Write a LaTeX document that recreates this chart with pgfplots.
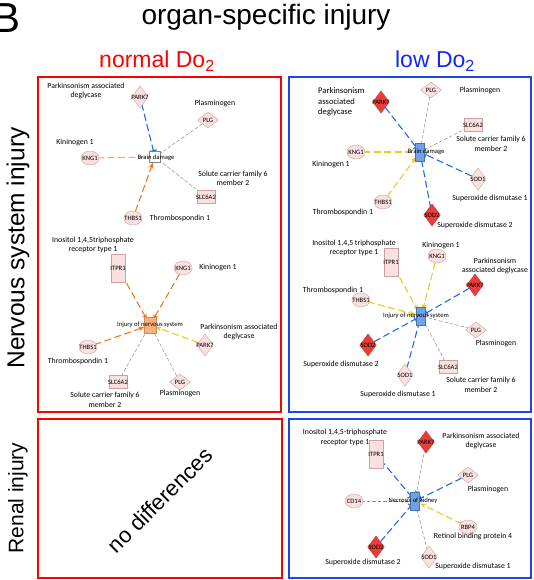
\documentclass[border=0pt]{standalone}
\usepackage{fontspec}
\setmainfont{Liberation Sans}
\newfontfamily\netfont{Carlito}
\usepackage{pgfplots}
\pgfplotsset{compat=1.18}
\usetikzlibrary{arrows.meta}
\definecolor{lpink}{RGB}{250,224,224}
\definecolor{pinkline}{RGB}{205,160,160}
\definecolor{nred}{RGB}{232,62,58}
\definecolor{nblue}{RGB}{112,162,230}
\definecolor{norange}{RGB}{248,176,120}
\definecolor{eblue}{RGB}{30,110,230}
\definecolor{eorange}{RGB}{240,120,30}
\definecolor{elorange}{RGB}{246,170,110}
\definecolor{eyellow}{RGB}{240,200,30}
\definecolor{egray}{RGB}{140,140,140}
\definecolor{pblue}{RGB}{30,70,230}
\definecolor{tblue}{RGB}{20,40,245}
\tikzset{
 E/.style={line width=1.1pt, dash pattern=on 7pt off 3.5pt, shorten <=7pt, shorten >=6pt},
 Eb/.style={E, eblue, -{Bar[width=7pt,line width=1.1pt]}},
 Eo/.style={E, eorange, -{Stealth[length=6pt,width=5pt]}},
 Elo/.style={E, elorange},
 Ey/.style={E, eyellow, -{Stealth[length=6pt,width=5pt]}},
 Eyn/.style={E, eyellow},
 Eg/.style={line width=0.5pt, egray, dash pattern=on 3.5pt off 2pt, shorten <=7pt, shorten >=6pt},
 Egarr/.style={Eg, -{Stealth[length=5pt,width=4pt]}},
}
\pgfplotsset{
 base/.style={at={(0,0)}, anchor=south west, scale only axis, width=533pt, height=580pt,
   xmin=0, xmax=533, ymin=0, ymax=580, y dir=reverse, hide axis, clip=false},
 circ/.style={only marks, mark=*, mark size=7pt, mark options={xscale=1.3, fill=lpink, draw=pinkline, line width=0.4pt}},
 vdia/.style={only marks, mark=diamond*, mark size=11pt, mark options={fill=lpink, draw=pinkline, line width=0.4pt}},
 vdiared/.style={only marks, mark=diamond*, mark size=11pt, mark options={fill=nred, draw=nred!85!black, line width=0.4pt}},
 hdia/.style={only marks, mark=diamond*, mark size=10.5pt, mark options={rotate=90, fill=lpink, draw=pinkline, line width=0.4pt}},
 slc/.style={only marks, mark=square*, mark size=6.5pt, mark options={xscale=1.35, fill=lpink, draw=pinkline, line width=0.4pt}},
 itpr/.style={only marks, mark=square*, mark size=7pt, mark options={yscale=2, fill=lpink, draw=pinkline, line width=0.4pt}},
 hubw/.style={only marks, mark=square*, mark size=5.5pt, mark options={fill=white, draw=gray, line width=0.4pt}},
 hubo/.style={only marks, mark=square*, mark size=6pt, mark options={yscale=1.3, fill=norange, draw=norange!80!black, line width=0.4pt}},
 hubb/.style={only marks, mark=square*, mark size=4.5pt, mark options={yscale=2, fill=nblue, draw=nblue!70!black, line width=0.4pt}},
}
\newcommand{\lab}{\netfont\fontsize{7.8}{9.5}\selectfont}
\newcommand{\inl}{\netfont\fontsize{6.6}{7}\selectfont}
\newcommand{\lb}[3]{\node[font=\lab, align=center, inner sep=0pt] at (axis cs:#1,#2) {#3};}
\newcommand{\il}[3]{\node[font=\inl, inner sep=0pt] at (axis cs:#1,#2) {#3};}
\newcommand{\ed}[5]{\addplot[#1] coordinates {(#2,#3) (#4,#5)};}
\begin{document}
\begin{tikzpicture}
\begin{axis}[base]
\coordinate (LL) at (axis cs:0,580);
\coordinate (UR) at (axis cs:533,0);
% panel borders
\addplot[red, line width=2.6pt] coordinates {(38,77)(281,77)(281,412)(38,412)(38,77)(281,77)};
\addplot[pblue, line width=2.6pt] coordinates {(289,77)(531,77)(531,412)(289,412)(289,77)(531,77)};
\addplot[red, line width=2.6pt] coordinates {(38,419)(282,419)(282,578)(38,578)(38,419)(282,419)};
\addplot[pblue, line width=2.6pt] coordinates {(289,419)(531,419)(531,578)(289,578)(289,419)(531,419)};
% ---- edges TL upper
\ed{Eb}{140}{97}{155}{157}
\ed{Eg}{208}{120}{155}{157}
\ed{Elo}{90}{158}{155}{157}
\ed{Eg}{206}{197}{155}{157}
\ed{Eo}{133}{218}{155}{157}
% TL lower
\ed{Eo}{118}{268}{150}{325}
\ed{Eo}{183}{268}{150}{325}
\ed{Eo}{88}{347}{150}{325}
\ed{Ey}{205}{345}{150}{325}
\ed{Eg}{118}{382}{150}{325}
\ed{Eg}{180}{382}{150}{325}
% TR upper
\ed{Eb}{381}{102}{420}{152}
\ed{Eg}{431}{90}{420}{152}
\ed{Eg}{473}{125}{420}{152}
\ed{Eyn}{356}{152}{420}{152}
\ed{Ey}{383}{202}{420}{152}
\ed{Eb}{478}{179}{420}{152}
\ed{Eb}{432}{215}{420}{152}
% TR lower
\ed{Ey}{391}{262}{421}{316}
\ed{Ey}{437}{256}{421}{316}
\ed{Ey}{361}{300}{421}{316}
\ed{Eb}{475}{285}{421}{316}
\ed{Eg}{476}{330}{421}{316}
\ed{Eb}{368}{345}{421}{316}
\ed{Eb}{405}{375}{421}{316}
\ed{Eg}{448}{367}{421}{316}
% BR
\ed{Eb}{376}{454}{415}{501}
\ed{Egarr}{426}{442}{415}{501}
\ed{Eb}{468}{475}{415}{501}
\ed{Eg}{354}{501}{415}{501}
\ed{Ey}{468}{527}{415}{501}
\ed{Eb}{376}{547}{415}{501}
\ed{Egarr}{429}{557}{415}{501}
% ---- nodes
\addplot[circ] coordinates {(90,158)(133,218)(183,268)(88,347)(356,152)(383,202)(437,256)(361,300)(354,501)(468,527)};
\addplot[vdia] coordinates {(140,97)(205,345)(478,179)(405,375)(429,557)};
\addplot[vdiared] coordinates {(381,102)(432,215)(475,285)(368,345)(426,442)(376,547)};
\addplot[hdia] coordinates {(208,120)(180,382)(431,90)(476,330)(468,475)};
\addplot[slc] coordinates {(206,197)(118,382)(473,125)(448,367)};
\addplot[itpr] coordinates {(118,268)(391,262)(376,454)};
\addplot[hubw] coordinates {(155,157)};
\addplot[hubo] coordinates {(150,325)};
\addplot[hubb] coordinates {(420,152)(421,316)(415,501)};
\end{axis}
\begin{axis}[base]
% ---- inner labels
\il{140}{97}{PARK7} \il{208}{120}{PLG} \il{90}{158}{KNG1} \il{156}{158}{Brain damage}
\il{206}{197}{SLC6A2} \il{133}{218}{THBS1} \il{118}{268}{ITPR1} \il{183}{268}{KNG1}
\il{150}{325}{Injury of nervous system} \il{205}{345}{PARK7} \il{88}{347}{THBS1}
\il{118}{382}{SLC6A2} \il{180}{382}{PLG}
\il{381}{102}{PARK7} \il{431}{90}{PLG} \il{473}{125}{SLC6A2} \il{426}{152}{Brain damage}
\il{356}{152}{KNG1} \il{478}{179}{SOD1} \il{383}{202}{THBS1} \il{432}{215}{SOD2}
\il{391}{262}{ITPR1} \il{437}{256}{KNG1} \il{475}{285}{PARK7} \il{361}{300}{THBS1}
\il{416}{316}{Injury of nervous system} \il{476}{330}{PLG} \il{368}{345}{SOD2}
\il{405}{375}{SOD1} \il{448}{367}{SLC6A2}
\il{376}{454}{ITPR1} \il{426}{442}{PARK7} \il{468}{475}{PLG} \il{354}{501}{CD14}
\il{413}{501}{Necrosis of kidney} \il{468}{527}{RBP4} \il{376}{547}{SOD2} \il{429}{557}{SOD1}
% ---- outer labels TL
\lb{86}{91}{Parkinsonism associated\\deglycase}
\lb{215}{103}{Plasminogen}
\lb{75}{142}{Kininogen 1}
\lb{233}{178.5}{Solute carrier family 6\\member 2}
\lb{180}{218}{Thrombospondin 1}
\lb{93}{245}{Inositol 1,4,5triphosphate\\receptor type 1}
\lb{218}{267}{Kininogen 1}
\lb{239}{332}{Parkinsonism associated\\deglycase}
\lb{78}{361}{Thrombospondin 1}
\lb{105}{400}{Solute carrier family 6\\member 2}
\lb{180}{393}{Plasminogen}
% TR
\node[font=\netfont\fontsize{8.6}{10.5}\selectfont, align=left, anchor=west, inner sep=0pt] at (axis cs:318,102) {Parkinsonism\\associated\\deglycase};
\lb{480}{90}{Plasminogen}
\lb{491}{144}{Solute carrier family 6\\member 2}
\lb{331}{164}{Kininogen 1}
\lb{490}{198}{Superoxide dismutase 1}
\lb{343}{212}{Thrombospondin 1}
\lb{475}{225}{Superoxide dismutase 2}
\lb{354}{248}{Inositol 1,4,5 triphosphate\\receptor type 1}
\lb{441}{245}{Kininogen 1}
\lb{495}{266}{Parkinsonism\\associated deglycase}
\lb{333}{290}{Thrombospondin 1}
\lb{496}{343}{Plasminogen}
\lb{341}{364}{Superoxide dismutase 2}
\lb{398}{394}{Superoxide dismutase 1}
\lb{481}{385}{Solute carrier family 6\\member 2}
% BR
\lb{345}{437.5}{Inositol 1,4,5-triphosphate\\receptor type 1}
\lb{481}{441}{Parkinsonism associated\\deglycase}
\lb{488}{489}{Plasminogen}
\lb{473}{536}{Retinol binding protein 4}
\lb{363}{562}{Superoxide dismutase 2}
\lb{473}{566}{Superoxide dismutase 1}
% ---- titles
\node[anchor=base west, inner sep=0pt, font=\fontsize{42}{42}\selectfont] at (axis cs:-8,33) {B};
\node[anchor=base, inner sep=0pt, font=\fontsize{28}{30}\selectfont] at (axis cs:266,25) {organ-specific injury};
\node[anchor=base, inner sep=0pt, text=red, font=\fontsize{23}{25}\selectfont] at (axis cs:157,68) {normal Do\textsubscript{2}};
\node[anchor=base, inner sep=0pt, text=tblue, font=\fontsize{23}{25}\selectfont] at (axis cs:435,68) {low Do\textsubscript{2}};
\node[rotate=90, inner sep=0pt, font=\fontsize{24.5}{26}\selectfont] at (axis cs:18,248) {Nervous system injury};
\node[rotate=90, inner sep=0pt, font=\fontsize{21}{23}\selectfont] at (axis cs:18,498) {Renal injury};
\node[rotate=45, inner sep=0pt, font=\fontsize{22}{24}\selectfont] at (axis cs:160,500) {no differences};
\end{axis}
\pgfresetboundingbox
\path[use as bounding box] (LL) rectangle (UR);
\end{tikzpicture}
\end{document}
